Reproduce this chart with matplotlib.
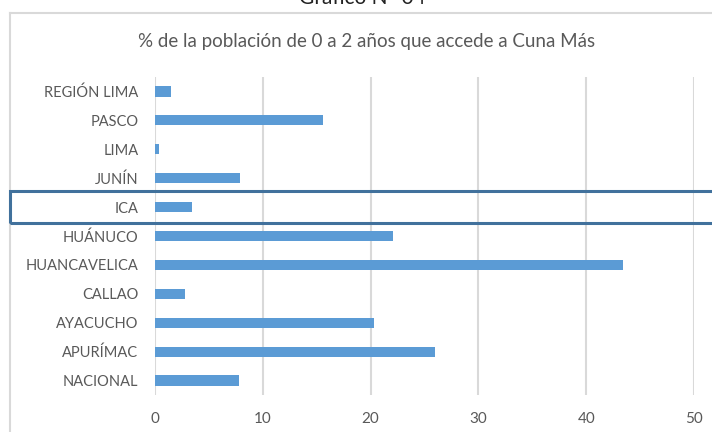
import matplotlib.pyplot as plt
from matplotlib.patches import Rectangle

# data, bottom to top
regiones = ['NACIONAL', 'APURÍMAC', 'AYACUCHO', 'CALLAO', 'HUANCAVELICA',
            'HUÁNUCO', 'ICA', 'JUNÍN', 'LIMA', 'PASCO', 'REGIÓN LIMA']
porcentaje = [7.8, 26.0, 20.3, 2.8, 43.4, 22.1, 3.4, 7.9, 0.4, 15.6, 1.5]
ticks_x = [0, 10, 20, 30, 40, 50]

titulo = '% de la población de 0 a 2 años que accede a Cuna Más'
grafico = 'Gráfico N° 04'
resaltado = 'ICA'

plt.rcParams['font.family'] = ['Lato', 'DejaVu Sans']
gris = '#595959'

fig = plt.figure(figsize=(7.12, 4.32), dpi=100)
ax = fig.add_axes([155 / 712, 1 - 395 / 432, (694 - 155) / 712, 318 / 432])

ax.barh(range(len(regiones)), porcentaje, height=0.35, color='#5B9BD5', zorder=3)
ax.set_yticks(range(len(regiones)))
ax.set_yticklabels(regiones, fontsize=10.5, color=gris)
ax.set_ylim(-0.5, len(regiones) - 0.5)
ax.set_xlim(0, 50)
ax.set_xticks(ticks_x)
ax.set_xticklabels([str(t) for t in ticks_x], fontsize=11, color=gris)
ax.tick_params(length=0, pad=12)
ax.tick_params(axis='x', pad=12)
ax.grid(axis='x', color='#D9D9D9', linewidth=1.5, zorder=0)
for s in ax.spines.values():
    s.set_visible(False)

# chart frame (cropped on the right)
fig.add_artist(plt.Line2D([10 / 712, 1], [1 - 13 / 432] * 2, color='#D9D9D9',
                          linewidth=1.5, transform=fig.transFigure))
fig.add_artist(plt.Line2D([10 / 712] * 2, [0, 1 - 13 / 432], color='#D9D9D9',
                          linewidth=1.5, transform=fig.transFigure))

fig.text(367 / 712, 1 - 42 / 432, titulo, ha='center', va='center',
         fontsize=13.5, color=gris)
fig.text(362 / 712, 1 + 2 / 432, grafico, ha='center', va='center',
         fontsize=15, color='#222222')

# highlight box around ICA row
i = regiones.index(resaltado)
y0 = ax.transData.transform((0, i))[1] / fig.bbox.height
fig.add_artist(Rectangle((10 / 712, y0 - 16 / 432), 1.0, 32 / 432,
                         fill=False, edgecolor='#41719C', linewidth=2.2,
                         transform=fig.transFigure, zorder=5))

fig.savefig('out.png', dpi=100)
